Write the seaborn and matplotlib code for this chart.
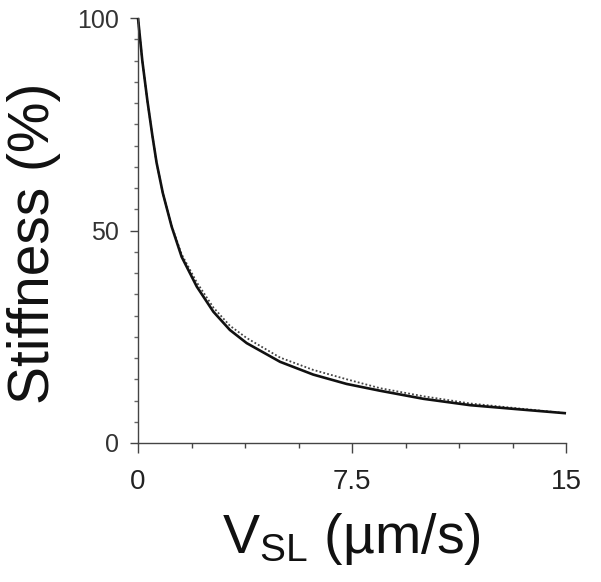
import matplotlib
matplotlib.use("Agg")
import matplotlib.pyplot as plt
from matplotlib.ticker import MultipleLocator
import seaborn as sns
import pandas as pd

# Data
v_solid = [0, 0.15, 0.33, 0.50, 0.65, 0.87, 1.18, 1.53, 2.06, 2.64, 3.22,
           3.81, 4.98, 6.14, 7.31, 8.48, 10.0, 11.64, 13.39, 15.0]
s_solid = [100, 90.0, 80.5, 72.5, 66.0, 58.8, 50.9, 43.8, 36.8, 30.9, 26.6,
           23.5, 19.1, 16.1, 13.9, 12.3, 10.4, 8.9, 7.9, 7.0]
v_dotted = [0, 0.15, 0.33, 0.50, 0.65, 0.87, 1.18, 1.53, 2.06, 2.64, 3.22,
            3.81, 4.98, 6.14, 7.31, 8.48, 10.0, 11.64, 13.39, 15.0]
s_dotted = [100, 90.0, 80.5, 72.5, 66.0, 58.8, 51.1, 44.4, 37.8, 31.9, 27.6,
            24.7, 20.1, 17.2, 15.0, 12.9, 11.0, 9.3, 8.1, 7.0]
x_ticks = [0, 7.5, 15]
x_tick_labels = ["0", "7.5", "15"]
y_ticks = [0, 50, 100]
y_tick_labels = ["0", "50", "100"]

sns.set_theme(style="ticks")
plt.rcParams["font.family"] = ["Liberation Sans", "DejaVu Sans"]
plt.rcParams["mathtext.fontset"] = "custom"
plt.rcParams["mathtext.rm"] = "Liberation Sans"
plt.rcParams["mathtext.it"] = "Liberation Sans:italic"
plt.rcParams["mathtext.bf"] = "Liberation Sans:bold"

fig = plt.figure(figsize=(6.01, 5.82), dpi=100)
ax = fig.add_axes([138 / 601, 1 - 443 / 582, 428 / 601, 425 / 582])

df_s = pd.DataFrame({"v": v_solid, "s": s_solid})
df_d = pd.DataFrame({"v": v_dotted, "s": s_dotted})

sns.lineplot(data=df_d, x="v", y="s", ax=ax, color="#444444", lw=1.3,
             linestyle=(0, (1, 1.2)), sort=False, clip_on=False)
sns.lineplot(data=df_s, x="v", y="s", ax=ax, color="#111111", lw=1.9,
             sort=False, clip_on=False, solid_capstyle="butt",
             solid_joinstyle="round")

ax.set_xlim(0, 15)
ax.set_ylim(0, 100)
ax.set_xticks(x_ticks)
ax.set_xticklabels(x_tick_labels)
ax.set_yticks(y_ticks)
ax.set_yticklabels(y_tick_labels)
ax.xaxis.set_minor_locator(MultipleLocator(1.875))
ax.yaxis.set_minor_locator(MultipleLocator(5))

for side in ["top", "right"]:
    ax.spines[side].set_visible(False)
for side in ["left", "bottom"]:
    ax.spines[side].set_color("#444444")
    ax.spines[side].set_linewidth(1.0)

ax.tick_params(axis="x", which="major", direction="out", length=7, width=1,
               color="#444444", labelsize=20, pad=12, labelcolor="#222222")
ax.tick_params(axis="x", which="minor", direction="out", length=3.5, width=1,
               color="#444444")
ax.tick_params(axis="y", which="major", direction="out", length=6, width=1,
               color="#444444", labelsize=18, pad=8, labelcolor="#333333")
ax.tick_params(axis="y", which="minor", direction="out", length=3, width=1,
               color="#666666")

ax.set_xlabel("")
ax.set_ylabel("")

fig.text(34 / 601, 1 - 243 / 582, "Stiffness (%)", rotation=90,
         ha="center", va="center", fontsize=41, color="#111111")
fig.text(351 / 601, 1 - 553 / 582, r"V$_{\mathrm{SL}}$ (µm/s)",
         ha="center", va="baseline", fontsize=40, color="#111111")

fig.savefig("out.png", dpi=100)
